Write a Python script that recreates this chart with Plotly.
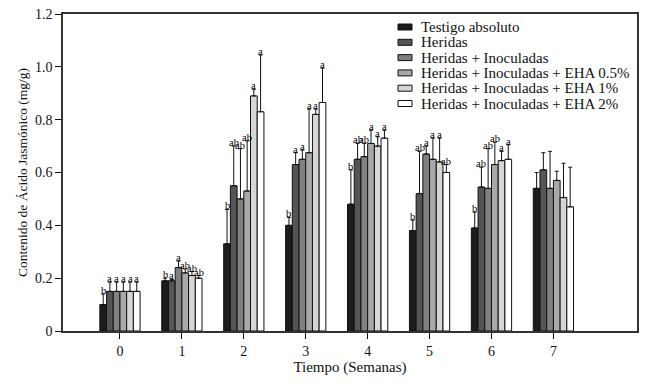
import plotly.graph_objects as go

weeks = [0, 1, 2, 3, 4, 5, 6, 7]
tick_labels = ["0", "1", "2", "3", "4", "5", "6", "7"]

series_names = [
    "Testigo absoluto",
    "Heridas",
    "Heridas + Inoculadas",
    "Heridas + Inoculadas + EHA 0.5%",
    "Heridas + Inoculadas + EHA 1%",
    "Heridas + Inoculadas + EHA 2%",
]
series_colors = ["#1c1c1c", "#555555", "#808080", "#a9a9a9", "#d6d6d6", "#ffffff"]

testigo = [0.10, 0.19, 0.33, 0.40, 0.48, 0.38, 0.39, 0.54]
heridas = [0.15, 0.19, 0.55, 0.63, 0.65, 0.52, 0.545, 0.61]
inoculadas = [0.15, 0.24, 0.50, 0.65, 0.66, 0.67, 0.54, 0.54]
eha05 = [0.15, 0.22, 0.53, 0.675, 0.71, 0.65, 0.63, 0.57]
eha1 = [0.15, 0.21, 0.89, 0.82, 0.70, 0.64, 0.645, 0.505]
eha2 = [0.15, 0.20, 0.83, 0.865, 0.73, 0.60, 0.65, 0.47]

err_testigo = [0.04, 0.01, 0.13, 0.03, 0.13, 0.04, 0.06, 0.06]
err_heridas = [0.035, 0.005, 0.15, 0.045, 0.06, 0.16, 0.075, 0.065]
err_inoculadas = [0.035, 0.025, 0.19, 0.035, 0.05, 0.03, 0.15, 0.14]
err_eha05 = [0.035, 0.015, 0.19, 0.165, 0.05, 0.08, 0.085, 0.035]
err_eha1 = [0.035, 0.015, 0.025, 0.02, 0.035, 0.09, 0.035, 0.13]
err_eha2 = [0.035, 0.01, 0.215, 0.13, 0.03, 0.03, 0.055, 0.15]

let_testigo = ["b", "b", "b", "b", "b", "b", "b", ""]
let_heridas = ["a", "a", "ab", "a", "ab", "ab", "ab", ""]
let_inoculadas = ["a", "a", "ab", "a", "ab", "a", "ab", ""]
let_eha05 = ["a", "ab", "ab", "a", "a", "a", "ab", ""]
let_eha1 = ["a", "ab", "a", "a", "a", "a", "a", ""]
let_eha2 = ["a", "ab", "a", "a", "a", "ab", "a", ""]

values = [testigo, heridas, inoculadas, eha05, eha1, eha2]
errors = [err_testigo, err_heridas, err_inoculadas, err_eha05, err_eha1, err_eha2]
letters = [let_testigo, let_heridas, let_inoculadas, let_eha05, let_eha1, let_eha2]

FONT = "Liberation Serif"
W, H = 650, 383
ML, MR, MT, MB = 63, 13, 14, 52
BARGAP = 0.35
n = len(values)

fig = go.Figure()
for i in range(n):
    fig.add_trace(go.Bar(
        x=weeks, y=values[i], name=series_names[i],
        marker=dict(color=series_colors[i], line=dict(color="#111111", width=1)),
        error_y=dict(type="data", symmetric=False, array=errors[i],
                     arrayminus=[0] * len(weeks), color="#111111",
                     thickness=1, width=2),
        showlegend=False,
    ))

# significance letters above each error bar
annotations = []
slot = (1 - BARGAP) / n
for i in range(n):
    for j, w in enumerate(weeks):
        if letters[i][j]:
            annotations.append(dict(
                x=w - (1 - BARGAP) / 2 + (i + 0.5) * slot,
                y=values[i][j] + errors[i][j],
                xref="x", yref="y", text=letters[i][j], showarrow=False,
                yanchor="bottom", yshift=-3, borderpad=0,
                font=dict(family=FONT, size=10.5, color="#000000"),
            ))

# legend drawn compactly (like the original figure)
pw, ph = W - ML - MR, H - MT - MB
def px_x(p):
    return (p - ML) / pw
def px_y(p):
    return (H - MB - p) / ph

shapes = []
for i in range(n):
    yc = 27 + i * 15.3
    shapes.append(dict(type="rect", xref="paper", yref="paper",
                       x0=px_x(398), x1=px_x(412), y0=px_y(yc + 3), y1=px_y(yc - 3),
                       fillcolor=series_colors[i], line=dict(color="#111111", width=1)))
    annotations.append(dict(x=px_x(419), y=px_y(yc), xref="paper", yref="paper",
                            text=series_names[i], showarrow=False,
                            xanchor="left", yanchor="middle",
                            font=dict(family=FONT, size=15, color="#111111")))

fig.update_layout(
    width=W, height=H,
    margin=dict(l=ML, r=MR, t=MT, b=MB, pad=0),
    paper_bgcolor="white", plot_bgcolor="white",
    barmode="group", bargap=BARGAP, bargroupgap=0,
    font=dict(family=FONT, size=14, color="#111111"),
    annotations=annotations, shapes=shapes,
    xaxis=dict(
        range=[-0.92, 8.35], tickmode="array", tickvals=weeks, ticktext=tick_labels,
        ticks="outside", ticklen=6, tickcolor="#111111", showgrid=False, zeroline=False,
        showline=True, linecolor="#333333", linewidth=1.5, mirror=True,
        automargin=False,
        title=dict(text="Tiempo (Semanas)", font=dict(family=FONT, size=15), standoff=4),
        tickfont=dict(family=FONT, size=14),
    ),
    yaxis=dict(
        range=[0, 1.2], tickmode="array",
        tickvals=[0, 0.2, 0.4, 0.6, 0.8, 1.0, 1.2],
        ticktext=["0", "0.2", "0.4", "0.6", "0.8", "1.0", "1.2"],
        ticks="outside", ticklen=6, tickcolor="#111111", showgrid=False, zeroline=False,
        showline=True, linecolor="#333333", linewidth=1.5, mirror=True,
        automargin=False,
        title=dict(text="Contenido de Ácido Jasmónico (mg/g)", font=dict(family=FONT, size=13.5), standoff=4),
        tickfont=dict(family=FONT, size=14),
    ),
)

fig.write_html("out.html", config={"displayModeBar": False},
               post_script="document.body.style.margin='0';")
